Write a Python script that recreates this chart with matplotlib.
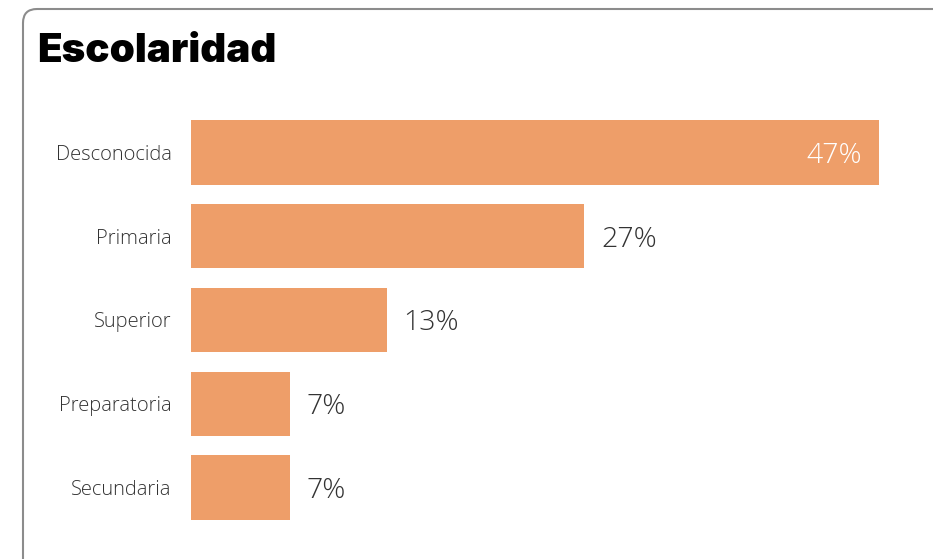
import matplotlib
matplotlib.use('Agg')
import matplotlib.pyplot as plt
from matplotlib.patches import FancyBboxPatch

# data: share of cases by schooling level (%)
categories = ['Desconocida', 'Primaria', 'Superior', 'Preparatoria', 'Secundaria']
values = [46.7, 26.7, 13.3, 6.7, 6.7]
title = 'Escolaridad'

bar_color = '#EE9E69'
text_color = '#333333'

fig = plt.figure(figsize=(9.33, 5.59), dpi=100)

# card outline (display pixels), runs off the right and bottom edge
card = FancyBboxPatch((23, -40), 960, 550 + 40, boxstyle='round,pad=0,rounding_size=14',
                      transform=None, facecolor='none', edgecolor='#8c8c8c',
                      linewidth=1.5, zorder=-1)
fig.patches.append(card)

fig.text(37 / 933, 1 - 52 / 559, title, fontsize=29, fontweight='black', family='Inter',
         color='black', va='center', ha='left')

ax = fig.add_axes([191 / 933, 1 - 529.5 / 559, 688 / 933, 419 / 559])
ax.set_facecolor('none')
y = range(len(categories))
bars = ax.barh(y, values, height=0.77, color=bar_color)
ax.set_xlim(0, max(values))
ax.set_ylim(len(categories) - 0.5, -0.5)

ax.set_yticks(list(y))
ax.set_yticklabels(categories, fontsize=14.5, family='Open Sans', fontweight='light',
                   color=text_color, va='center_baseline')
ax.tick_params(axis='y', length=0, pad=14)
ax.set_xticks([])
for s in ax.spines.values():
    s.set_visible(False)

for i, v in enumerate(values):
    label = f'{round(v)}%'
    if v > 0.8 * max(values):
        ax.annotate(label, (v, i), xytext=(-12, 0), textcoords='offset points',
                    ha='right', va='center_baseline', fontsize=20.5, family='Open Sans',
                    fontweight='light', color='white')
    else:
        ax.annotate(label, (v, i), xytext=(12, 0), textcoords='offset points',
                    ha='left', va='center_baseline', fontsize=20.5, family='Open Sans',
                    fontweight='light', color=text_color)

fig.savefig('out.png', dpi=100)
